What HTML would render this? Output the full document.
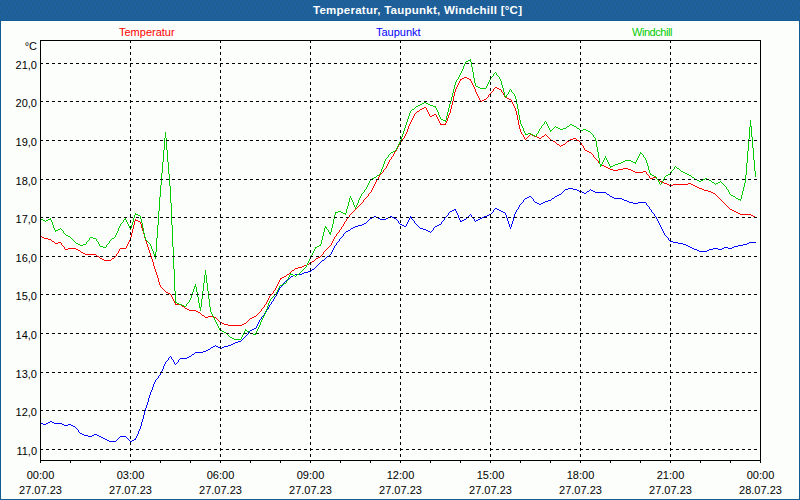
<!DOCTYPE html>
<html><head><meta charset="utf-8"><title>Temperatur, Taupunkt, Windchill</title>
<style>
html,body{margin:0;padding:0;}
body{width:800px;height:500px;overflow:hidden;background:#125b95;font-family:"Liberation Sans",sans-serif;font-size:11px;color:#000;position:relative;}
#bg{position:absolute;left:1px;top:21px;width:798px;height:478px;background:#fcfefb;}
#title{position:absolute;left:313px;top:3px;height:16px;line-height:14px;letter-spacing:0.25px;color:#fff;font-weight:bold;font-size:11.5px;white-space:nowrap;}
.lg{position:absolute;top:25px;height:14px;line-height:14px;white-space:nowrap;font-size:11px;}
.yl{position:absolute;left:0;width:37px;text-align:right;height:14px;line-height:14px;white-space:nowrap;}
.xl{position:absolute;width:81px;text-align:center;height:14px;line-height:14px;white-space:nowrap;}
</style></head><body>
<div id="bg"></div>
<div class="lg" id="l1" style="left:119px;color:#ff0000">Temperatur</div>
<div class="lg" id="l2" style="left:376px;color:#0000ff">Taupunkt</div>
<div class="lg" id="l3" style="left:632px;color:#00cc00;letter-spacing:-0.45px">Windchill</div>
<svg width="800" height="500" viewBox="0 0 800 500" style="position:absolute;left:0;top:0" shape-rendering="crispEdges">
<defs><pattern id="dz" x="0" y="0" width="8" height="8" patternUnits="userSpaceOnUse"><rect width="8" height="8" fill="#1e6096"/><path fill="#2062b4" d="M1 1h1v1h-1zM5 1h1v1h-1zM3 3h1v1h-1zM7 3h1v1h-1zM2 5h1v1h-1zM6 5h1v1h-1zM0 7h1v1h-1zM4 7h1v1h-1z"/></pattern></defs>
<rect x="0" y="0" width="800" height="20" fill="url(#dz)"/>
<path fill="#ff0000" d="M40 236h1v1h-1zM41 236h1v1h-1zM42 237h1v1h-1zM43 237h1v1h-1zM44 238h1v1h-1zM45 238h1v1h-1zM46 238h1v1h-1zM47 238h1v1h-1zM48 239h1v1h-1zM49 239h1v1h-1zM50 239h1v1h-1zM51 240h1v1h-1zM52 241h1v1h-1zM53 241h1v1h-1zM54 242h1v1h-1zM55 243h1v1h-1zM56 243h1v1h-1zM57 243h1v1h-1zM58 242h1v1h-1zM59 242h1v1h-1zM60 242h1v1h-1zM61 243h1v2h-1zM62 245h1v1h-1zM63 246h1v1h-1zM64 247h1v2h-1zM65 249h1v1h-1zM66 249h1v1h-1zM67 249h1v1h-1zM68 248h1v1h-1zM69 248h1v1h-1zM70 248h1v1h-1zM71 248h1v1h-1zM72 248h1v1h-1zM73 248h1v1h-1zM74 248h1v1h-1zM75 248h1v1h-1zM76 249h1v1h-1zM77 249h1v1h-1zM78 250h1v1h-1zM79 250h1v1h-1zM80 251h1v1h-1zM81 252h1v1h-1zM82 252h1v1h-1zM83 253h1v1h-1zM84 253h1v1h-1zM85 254h1v1h-1zM86 254h1v1h-1zM87 254h1v1h-1zM88 254h1v1h-1zM89 254h1v1h-1zM90 254h1v1h-1zM91 254h1v1h-1zM92 254h1v1h-1zM93 254h1v1h-1zM94 254h1v1h-1zM95 254h1v1h-1zM96 255h1v1h-1zM97 256h1v1h-1zM98 256h1v1h-1zM99 257h1v1h-1zM100 258h1v1h-1zM101 258h1v1h-1zM102 259h1v1h-1zM103 259h1v1h-1zM104 260h1v1h-1zM105 260h1v1h-1zM106 260h1v1h-1zM107 260h1v1h-1zM108 260h1v1h-1zM109 260h1v1h-1zM110 260h1v1h-1zM111 259h1v1h-1zM112 258h1v1h-1zM113 258h1v1h-1zM114 257h1v1h-1zM115 256h1v1h-1zM116 254h1v2h-1zM117 253h1v1h-1zM118 251h1v2h-1zM119 249h1v2h-1zM120 248h1v1h-1zM121 248h1v1h-1zM122 248h1v1h-1zM123 248h1v1h-1zM124 248h1v1h-1zM125 248h1v1h-1zM126 246h1v2h-1zM127 244h1v2h-1zM128 242h1v2h-1zM129 240h1v2h-1zM130 237h1v3h-1zM131 233h1v4h-1zM132 229h1v4h-1zM133 225h1v4h-1zM134 221h1v4h-1zM135 219h1v2h-1zM136 220h1v1h-1zM137 220h1v1h-1zM138 221h1v1h-1zM139 221h1v1h-1zM140 222h1v2h-1zM141 224h1v4h-1zM142 228h1v3h-1zM143 231h1v3h-1zM144 234h1v4h-1zM145 238h1v3h-1zM146 241h1v3h-1zM147 244h1v3h-1zM148 247h1v3h-1zM149 250h1v3h-1zM150 253h1v3h-1zM151 256h1v3h-1zM152 259h1v3h-1zM153 262h1v4h-1zM154 266h1v3h-1zM155 269h1v3h-1zM156 272h1v3h-1zM157 275h1v3h-1zM158 278h1v4h-1zM159 282h1v3h-1zM160 285h1v2h-1zM161 287h1v1h-1zM162 288h1v1h-1zM163 289h1v1h-1zM164 290h1v1h-1zM165 291h1v1h-1zM166 292h1v1h-1zM167 292h1v1h-1zM168 293h1v1h-1zM169 293h1v1h-1zM170 294h1v1h-1zM171 295h1v2h-1zM172 297h1v2h-1zM173 299h1v2h-1zM174 301h1v2h-1zM175 303h1v2h-1zM176 304h1v1h-1zM177 304h1v1h-1zM178 304h1v1h-1zM179 304h1v1h-1zM180 304h1v1h-1zM181 305h1v1h-1zM182 306h1v1h-1zM183 306h1v1h-1zM184 307h1v1h-1zM185 308h1v1h-1zM186 308h1v1h-1zM187 309h1v1h-1zM188 309h1v1h-1zM189 310h1v1h-1zM190 310h1v1h-1zM191 310h1v1h-1zM192 310h1v1h-1zM193 310h1v1h-1zM194 310h1v1h-1zM195 310h1v1h-1zM196 311h1v1h-1zM197 311h1v1h-1zM198 312h1v1h-1zM199 312h1v1h-1zM200 313h1v1h-1zM201 314h1v1h-1zM202 315h1v1h-1zM203 315h1v1h-1zM204 316h1v1h-1zM205 317h1v1h-1zM206 317h1v1h-1zM207 317h1v1h-1zM208 316h1v1h-1zM209 316h1v1h-1zM210 316h1v1h-1zM211 316h1v1h-1zM212 316h1v1h-1zM213 317h1v1h-1zM214 317h1v1h-1zM215 317h1v1h-1zM216 318h1v1h-1zM217 319h1v1h-1zM218 320h1v1h-1zM219 321h1v1h-1zM220 322h1v1h-1zM221 322h1v1h-1zM222 323h1v1h-1zM223 323h1v1h-1zM224 324h1v1h-1zM225 324h1v1h-1zM226 324h1v1h-1zM227 324h1v1h-1zM228 325h1v1h-1zM229 325h1v1h-1zM230 325h1v1h-1zM231 325h1v1h-1zM232 325h1v1h-1zM233 325h1v1h-1zM234 325h1v1h-1zM235 325h1v1h-1zM236 325h1v1h-1zM237 325h1v1h-1zM238 325h1v1h-1zM239 325h1v1h-1zM240 325h1v1h-1zM241 325h1v1h-1zM242 324h1v1h-1zM243 324h1v1h-1zM244 323h1v1h-1zM245 323h1v1h-1zM246 322h1v1h-1zM247 321h1v1h-1zM248 320h1v1h-1zM249 319h1v1h-1zM250 318h1v1h-1zM251 318h1v1h-1zM252 317h1v1h-1zM253 317h1v1h-1zM254 316h1v1h-1zM255 316h1v1h-1zM256 315h1v1h-1zM257 314h1v1h-1zM258 313h1v1h-1zM259 312h1v1h-1zM260 311h1v1h-1zM261 309h1v2h-1zM262 308h1v1h-1zM263 307h1v1h-1zM264 305h1v2h-1zM265 304h1v1h-1zM266 302h1v2h-1zM267 300h1v2h-1zM268 298h1v2h-1zM269 296h1v2h-1zM270 295h1v1h-1zM271 294h1v1h-1zM272 293h1v1h-1zM273 291h1v2h-1zM274 290h1v1h-1zM275 288h1v2h-1zM276 286h1v2h-1zM277 284h1v2h-1zM278 282h1v2h-1zM279 280h1v2h-1zM280 278h1v2h-1zM281 278h1v1h-1zM282 277h1v1h-1zM283 277h1v1h-1zM284 276h1v1h-1zM285 276h1v1h-1zM286 275h1v1h-1zM287 274h1v1h-1zM288 274h1v1h-1zM289 273h1v1h-1zM290 272h1v1h-1zM291 271h1v1h-1zM292 270h1v1h-1zM293 270h1v1h-1zM294 269h1v1h-1zM295 268h1v1h-1zM296 268h1v1h-1zM297 268h1v1h-1zM298 267h1v1h-1zM299 267h1v1h-1zM300 267h1v1h-1zM301 267h1v1h-1zM302 266h1v1h-1zM303 266h1v1h-1zM304 265h1v1h-1zM305 265h1v1h-1zM306 265h1v1h-1zM307 264h1v1h-1zM308 264h1v1h-1zM309 263h1v1h-1zM310 263h1v1h-1zM311 262h1v1h-1zM312 261h1v1h-1zM313 261h1v1h-1zM314 260h1v1h-1zM315 259h1v1h-1zM316 258h1v1h-1zM317 258h1v1h-1zM318 257h1v1h-1zM319 257h1v1h-1zM320 256h1v1h-1zM321 255h1v1h-1zM322 254h1v1h-1zM323 252h1v2h-1zM324 251h1v1h-1zM325 250h1v1h-1zM326 249h1v1h-1zM327 248h1v1h-1zM328 247h1v1h-1zM329 246h1v1h-1zM330 245h1v1h-1zM331 243h1v2h-1zM332 241h1v2h-1zM333 239h1v2h-1zM334 237h1v2h-1zM335 236h1v1h-1zM336 234h1v2h-1zM337 233h1v1h-1zM338 232h1v1h-1zM339 230h1v2h-1zM340 229h1v1h-1zM341 227h1v2h-1zM342 226h1v1h-1zM343 224h1v2h-1zM344 222h1v2h-1zM345 221h1v1h-1zM346 219h1v2h-1zM347 218h1v1h-1zM348 217h1v1h-1zM349 215h1v2h-1zM350 214h1v1h-1zM351 213h1v1h-1zM352 212h1v1h-1zM353 211h1v1h-1zM354 210h1v1h-1zM355 209h1v1h-1zM356 208h1v1h-1zM357 207h1v1h-1zM358 206h1v1h-1zM359 205h1v1h-1zM360 204h1v1h-1zM361 203h1v1h-1zM362 202h1v1h-1zM363 200h1v2h-1zM364 199h1v1h-1zM365 198h1v1h-1zM366 197h1v1h-1zM367 196h1v1h-1zM368 194h1v2h-1zM369 193h1v1h-1zM370 192h1v1h-1zM371 190h1v2h-1zM372 188h1v2h-1zM373 186h1v2h-1zM374 184h1v2h-1zM375 182h1v2h-1zM376 180h1v2h-1zM377 179h1v1h-1zM378 177h1v2h-1zM379 175h1v2h-1zM380 174h1v1h-1zM381 173h1v1h-1zM382 172h1v1h-1zM383 170h1v2h-1zM384 169h1v1h-1zM385 168h1v1h-1zM386 166h1v2h-1zM387 164h1v2h-1zM388 162h1v2h-1zM389 160h1v2h-1zM390 159h1v1h-1zM391 157h1v2h-1zM392 156h1v1h-1zM393 154h1v2h-1zM394 152h1v2h-1zM395 151h1v1h-1zM396 149h1v2h-1zM397 147h1v2h-1zM398 145h1v2h-1zM399 143h1v2h-1zM400 142h1v1h-1zM401 140h1v2h-1zM402 139h1v1h-1zM403 138h1v1h-1zM404 136h1v2h-1zM405 134h1v2h-1zM406 132h1v2h-1zM407 129h1v3h-1zM408 126h1v3h-1zM409 124h1v2h-1zM410 122h1v2h-1zM411 120h1v2h-1zM412 118h1v2h-1zM413 116h1v2h-1zM414 114h1v2h-1zM415 113h1v1h-1zM416 112h1v1h-1zM417 111h1v1h-1zM418 111h1v1h-1zM419 110h1v1h-1zM420 109h1v1h-1zM421 109h1v1h-1zM422 108h1v1h-1zM423 108h1v1h-1zM424 107h1v1h-1zM425 107h1v1h-1zM426 108h1v2h-1zM427 110h1v2h-1zM428 112h1v2h-1zM429 114h1v2h-1zM430 116h1v1h-1zM431 116h1v1h-1zM432 115h1v1h-1zM433 115h1v1h-1zM434 114h1v1h-1zM435 114h1v1h-1zM436 115h1v2h-1zM437 117h1v2h-1zM438 119h1v2h-1zM439 121h1v2h-1zM440 123h1v2h-1zM441 124h1v1h-1zM442 124h1v1h-1zM443 124h1v1h-1zM444 124h1v1h-1zM445 123h1v2h-1zM446 121h1v2h-1zM447 118h1v3h-1zM448 115h1v3h-1zM449 113h1v2h-1zM450 109h1v4h-1zM451 105h1v4h-1zM452 101h1v4h-1zM453 96h1v5h-1zM454 92h1v4h-1zM455 89h1v3h-1zM456 87h1v2h-1zM457 85h1v2h-1zM458 83h1v2h-1zM459 81h1v2h-1zM460 79h1v2h-1zM461 79h1v1h-1zM462 78h1v1h-1zM463 78h1v1h-1zM464 77h1v1h-1zM465 77h1v1h-1zM466 77h1v1h-1zM467 78h1v1h-1zM468 78h1v1h-1zM469 79h1v1h-1zM470 79h1v2h-1zM471 81h1v2h-1zM472 83h1v2h-1zM473 85h1v2h-1zM474 87h1v2h-1zM475 89h1v3h-1zM476 92h1v2h-1zM477 94h1v2h-1zM478 96h1v2h-1zM479 98h1v2h-1zM480 100h1v2h-1zM481 101h1v1h-1zM482 100h1v1h-1zM483 100h1v1h-1zM484 99h1v1h-1zM485 99h1v1h-1zM486 98h1v1h-1zM487 97h1v1h-1zM488 95h1v2h-1zM489 94h1v1h-1zM490 93h1v1h-1zM491 92h1v1h-1zM492 91h1v1h-1zM493 89h1v2h-1zM494 88h1v1h-1zM495 87h1v1h-1zM496 87h1v1h-1zM497 88h1v1h-1zM498 88h1v1h-1zM499 89h1v1h-1zM500 89h1v1h-1zM501 90h1v2h-1zM502 92h1v1h-1zM503 93h1v2h-1zM504 95h1v2h-1zM505 97h1v1h-1zM506 97h1v1h-1zM507 98h1v1h-1zM508 98h1v1h-1zM509 99h1v1h-1zM510 99h1v1h-1zM511 100h1v2h-1zM512 102h1v2h-1zM513 104h1v2h-1zM514 106h1v2h-1zM515 108h1v3h-1zM516 111h1v4h-1zM517 115h1v5h-1zM518 120h1v5h-1zM519 125h1v4h-1zM520 129h1v3h-1zM521 132h1v2h-1zM522 134h1v1h-1zM523 135h1v2h-1zM524 137h1v2h-1zM525 139h1v1h-1zM526 138h1v1h-1zM527 137h1v1h-1zM528 136h1v1h-1zM529 135h1v1h-1zM530 134h1v1h-1zM531 134h1v1h-1zM532 135h1v1h-1zM533 135h1v1h-1zM534 136h1v1h-1zM535 136h1v1h-1zM536 136h1v1h-1zM537 137h1v1h-1zM538 137h1v1h-1zM539 138h1v1h-1zM540 138h1v1h-1zM541 137h1v1h-1zM542 136h1v1h-1zM543 136h1v1h-1zM544 135h1v1h-1zM545 134h1v1h-1zM546 135h1v1h-1zM547 136h1v1h-1zM548 137h1v1h-1zM549 138h1v1h-1zM550 139h1v1h-1zM551 140h1v1h-1zM552 140h1v1h-1zM553 141h1v1h-1zM554 141h1v1h-1zM555 142h1v1h-1zM556 143h1v1h-1zM557 144h1v1h-1zM558 144h1v1h-1zM559 145h1v1h-1zM560 146h1v1h-1zM561 145h1v1h-1zM562 145h1v1h-1zM563 144h1v1h-1zM564 144h1v1h-1zM565 143h1v1h-1zM566 142h1v1h-1zM567 141h1v1h-1zM568 141h1v1h-1zM569 140h1v1h-1zM570 139h1v1h-1zM571 139h1v1h-1zM572 139h1v1h-1zM573 138h1v1h-1zM574 138h1v1h-1zM575 138h1v1h-1zM576 139h1v1h-1zM577 140h1v1h-1zM578 140h1v1h-1zM579 141h1v1h-1zM580 142h1v1h-1zM581 143h1v2h-1zM582 145h1v1h-1zM583 146h1v2h-1zM584 148h1v2h-1zM585 150h1v1h-1zM586 150h1v1h-1zM587 151h1v1h-1zM588 151h1v1h-1zM589 152h1v1h-1zM590 152h1v1h-1zM591 153h1v1h-1zM592 154h1v1h-1zM593 155h1v2h-1zM594 157h1v1h-1zM595 158h1v1h-1zM596 159h1v1h-1zM597 160h1v1h-1zM598 161h1v2h-1zM599 163h1v1h-1zM600 164h1v1h-1zM601 164h1v1h-1zM602 165h1v1h-1zM603 165h1v1h-1zM604 166h1v1h-1zM605 166h1v1h-1zM606 167h1v1h-1zM607 167h1v1h-1zM608 168h1v1h-1zM609 168h1v1h-1zM610 169h1v1h-1zM611 169h1v1h-1zM612 169h1v1h-1zM613 170h1v1h-1zM614 170h1v1h-1zM615 170h1v1h-1zM616 170h1v1h-1zM617 170h1v1h-1zM618 169h1v1h-1zM619 169h1v1h-1zM620 169h1v1h-1zM621 169h1v1h-1zM622 169h1v1h-1zM623 168h1v1h-1zM624 168h1v1h-1zM625 168h1v1h-1zM626 168h1v1h-1zM627 168h1v1h-1zM628 169h1v1h-1zM629 169h1v1h-1zM630 169h1v1h-1zM631 170h1v1h-1zM632 170h1v1h-1zM633 171h1v1h-1zM634 171h1v1h-1zM635 172h1v1h-1zM636 172h1v1h-1zM637 172h1v1h-1zM638 172h1v1h-1zM639 172h1v1h-1zM640 172h1v1h-1zM641 172h1v1h-1zM642 172h1v1h-1zM643 171h1v1h-1zM644 171h1v1h-1zM645 171h1v1h-1zM646 172h1v2h-1zM647 174h1v1h-1zM648 175h1v1h-1zM649 176h1v2h-1zM650 178h1v1h-1zM651 178h1v1h-1zM652 178h1v1h-1zM653 177h1v1h-1zM654 177h1v1h-1zM655 177h1v1h-1zM656 178h1v1h-1zM657 179h1v1h-1zM658 179h1v1h-1zM659 180h1v1h-1zM660 181h1v1h-1zM661 181h1v1h-1zM662 182h1v1h-1zM663 182h1v1h-1zM664 183h1v1h-1zM665 183h1v1h-1zM666 183h1v1h-1zM667 184h1v1h-1zM668 184h1v1h-1zM669 185h1v1h-1zM670 185h1v1h-1zM671 185h1v1h-1zM672 185h1v1h-1zM673 184h1v1h-1zM674 184h1v1h-1zM675 184h1v1h-1zM676 184h1v1h-1zM677 184h1v1h-1zM678 184h1v1h-1zM679 184h1v1h-1zM680 184h1v1h-1zM681 184h1v1h-1zM682 184h1v1h-1zM683 184h1v1h-1zM684 184h1v1h-1zM685 184h1v1h-1zM686 184h1v1h-1zM687 184h1v1h-1zM688 183h1v1h-1zM689 183h1v1h-1zM690 183h1v1h-1zM691 184h1v1h-1zM692 184h1v1h-1zM693 185h1v1h-1zM694 185h1v1h-1zM695 186h1v1h-1zM696 186h1v1h-1zM697 187h1v1h-1zM698 187h1v1h-1zM699 188h1v1h-1zM700 188h1v1h-1zM701 188h1v1h-1zM702 189h1v1h-1zM703 189h1v1h-1zM704 190h1v1h-1zM705 190h1v1h-1zM706 190h1v1h-1zM707 190h1v1h-1zM708 191h1v1h-1zM709 191h1v1h-1zM710 191h1v1h-1zM711 192h1v1h-1zM712 192h1v1h-1zM713 193h1v1h-1zM714 193h1v1h-1zM715 194h1v1h-1zM716 195h1v1h-1zM717 196h1v1h-1zM718 197h1v1h-1zM719 198h1v1h-1zM720 199h1v1h-1zM721 200h1v1h-1zM722 201h1v1h-1zM723 202h1v1h-1zM724 203h1v1h-1zM725 204h1v1h-1zM726 205h1v1h-1zM727 206h1v1h-1zM728 207h1v1h-1zM729 208h1v1h-1zM730 209h1v1h-1zM731 209h1v1h-1zM732 210h1v1h-1zM733 210h1v1h-1zM734 211h1v1h-1zM735 211h1v1h-1zM736 212h1v1h-1zM737 212h1v1h-1zM738 213h1v1h-1zM739 213h1v1h-1zM740 214h1v1h-1zM741 214h1v1h-1zM742 214h1v1h-1zM743 214h1v1h-1zM744 214h1v1h-1zM745 214h1v1h-1zM746 214h1v1h-1zM747 214h1v1h-1zM748 214h1v1h-1zM749 214h1v1h-1zM750 214h1v1h-1zM751 215h1v1h-1zM752 215h1v1h-1zM753 216h1v1h-1zM754 216h1v1h-1zM755 217h1v1h-1z"/>
<path fill="#0000ff" d="M40 423h1v1h-1zM41 423h1v1h-1zM42 423h1v1h-1zM43 424h1v1h-1zM44 424h1v1h-1zM45 424h1v1h-1zM46 423h1v1h-1zM47 423h1v1h-1zM48 422h1v1h-1zM49 422h1v1h-1zM50 421h1v1h-1zM51 421h1v1h-1zM52 422h1v1h-1zM53 422h1v1h-1zM54 423h1v1h-1zM55 423h1v1h-1zM56 423h1v1h-1zM57 423h1v1h-1zM58 423h1v1h-1zM59 423h1v1h-1zM60 423h1v1h-1zM61 423h1v1h-1zM62 424h1v1h-1zM63 424h1v1h-1zM64 425h1v1h-1zM65 425h1v1h-1zM66 425h1v1h-1zM67 425h1v1h-1zM68 424h1v1h-1zM69 424h1v1h-1zM70 424h1v1h-1zM71 425h1v1h-1zM72 425h1v1h-1zM73 426h1v1h-1zM74 426h1v1h-1zM75 427h1v1h-1zM76 428h1v1h-1zM77 429h1v1h-1zM78 430h1v2h-1zM79 432h1v1h-1zM80 433h1v1h-1zM81 433h1v1h-1zM82 434h1v1h-1zM83 434h1v1h-1zM84 435h1v1h-1zM85 435h1v1h-1zM86 435h1v1h-1zM87 435h1v1h-1zM88 436h1v1h-1zM89 436h1v1h-1zM90 436h1v1h-1zM91 436h1v1h-1zM92 435h1v1h-1zM93 435h1v1h-1zM94 434h1v1h-1zM95 434h1v1h-1zM96 434h1v1h-1zM97 435h1v1h-1zM98 435h1v1h-1zM99 436h1v1h-1zM100 436h1v1h-1zM101 437h1v1h-1zM102 437h1v1h-1zM103 438h1v1h-1zM104 438h1v1h-1zM105 439h1v1h-1zM106 439h1v1h-1zM107 440h1v1h-1zM108 440h1v1h-1zM109 441h1v1h-1zM110 441h1v1h-1zM111 441h1v1h-1zM112 441h1v1h-1zM113 441h1v1h-1zM114 441h1v1h-1zM115 441h1v1h-1zM116 440h1v1h-1zM117 439h1v1h-1zM118 438h1v1h-1zM119 437h1v1h-1zM120 436h1v1h-1zM121 436h1v1h-1zM122 436h1v1h-1zM123 436h1v1h-1zM124 436h1v1h-1zM125 436h1v1h-1zM126 437h1v1h-1zM127 438h1v1h-1zM128 439h1v1h-1zM129 440h1v1h-1zM130 441h1v1h-1zM131 441h1v1h-1zM132 440h1v1h-1zM133 440h1v1h-1zM134 439h1v1h-1zM135 438h1v2h-1zM136 436h1v2h-1zM137 434h1v2h-1zM138 431h1v3h-1zM139 429h1v2h-1zM140 426h1v3h-1zM141 422h1v4h-1zM142 419h1v3h-1zM143 415h1v4h-1zM144 411h1v4h-1zM145 408h1v3h-1zM146 405h1v3h-1zM147 402h1v3h-1zM148 398h1v4h-1zM149 395h1v3h-1zM150 392h1v3h-1zM151 390h1v2h-1zM152 387h1v3h-1zM153 384h1v3h-1zM154 382h1v2h-1zM155 380h1v2h-1zM156 379h1v1h-1zM157 378h1v1h-1zM158 376h1v2h-1zM159 375h1v1h-1zM160 373h1v2h-1zM161 371h1v2h-1zM162 369h1v2h-1zM163 366h1v3h-1zM164 364h1v2h-1zM165 362h1v2h-1zM166 361h1v1h-1zM167 360h1v1h-1zM168 358h1v2h-1zM169 357h1v1h-1zM170 356h1v1h-1zM171 357h1v2h-1zM172 359h1v1h-1zM173 360h1v2h-1zM174 362h1v2h-1zM175 364h1v1h-1zM176 363h1v1h-1zM177 362h1v1h-1zM178 360h1v2h-1zM179 359h1v1h-1zM180 358h1v1h-1zM181 358h1v1h-1zM182 358h1v1h-1zM183 358h1v1h-1zM184 358h1v1h-1zM185 358h1v1h-1zM186 358h1v1h-1zM187 357h1v1h-1zM188 357h1v1h-1zM189 356h1v1h-1zM190 356h1v1h-1zM191 355h1v1h-1zM192 354h1v1h-1zM193 354h1v1h-1zM194 353h1v1h-1zM195 352h1v1h-1zM196 352h1v1h-1zM197 352h1v1h-1zM198 352h1v1h-1zM199 352h1v1h-1zM200 352h1v1h-1zM201 352h1v1h-1zM202 352h1v1h-1zM203 351h1v1h-1zM204 351h1v1h-1zM205 351h1v1h-1zM206 350h1v1h-1zM207 350h1v1h-1zM208 349h1v1h-1zM209 349h1v1h-1zM210 348h1v1h-1zM211 347h1v1h-1zM212 347h1v1h-1zM213 346h1v1h-1zM214 346h1v1h-1zM215 345h1v1h-1zM216 346h1v1h-1zM217 346h1v1h-1zM218 347h1v1h-1zM219 347h1v1h-1zM220 348h1v1h-1zM221 348h1v1h-1zM222 347h1v1h-1zM223 347h1v1h-1zM224 346h1v1h-1zM225 346h1v1h-1zM226 346h1v1h-1zM227 346h1v1h-1zM228 345h1v1h-1zM229 345h1v1h-1zM230 345h1v1h-1zM231 344h1v1h-1zM232 344h1v1h-1zM233 343h1v1h-1zM234 343h1v1h-1zM235 342h1v1h-1zM236 342h1v1h-1zM237 342h1v1h-1zM238 341h1v1h-1zM239 341h1v1h-1zM240 341h1v1h-1zM241 340h1v1h-1zM242 339h1v1h-1zM243 338h1v1h-1zM244 337h1v1h-1zM245 336h1v1h-1zM246 335h1v1h-1zM247 334h1v1h-1zM248 332h1v2h-1zM249 331h1v1h-1zM250 330h1v1h-1zM251 330h1v1h-1zM252 329h1v1h-1zM253 329h1v1h-1zM254 328h1v1h-1zM255 328h1v1h-1zM256 326h1v2h-1zM257 324h1v2h-1zM258 322h1v2h-1zM259 320h1v2h-1zM260 319h1v1h-1zM261 317h1v2h-1zM262 316h1v1h-1zM263 315h1v1h-1zM264 313h1v2h-1zM265 312h1v1h-1zM266 310h1v2h-1zM267 309h1v1h-1zM268 307h1v2h-1zM269 305h1v2h-1zM270 304h1v1h-1zM271 302h1v2h-1zM272 301h1v1h-1zM273 299h1v2h-1zM274 297h1v2h-1zM275 296h1v1h-1zM276 294h1v2h-1zM277 292h1v2h-1zM278 290h1v2h-1zM279 288h1v2h-1zM280 287h1v1h-1zM281 286h1v1h-1zM282 285h1v1h-1zM283 283h1v2h-1zM284 282h1v1h-1zM285 281h1v1h-1zM286 280h1v1h-1zM287 279h1v1h-1zM288 279h1v1h-1zM289 278h1v1h-1zM290 277h1v1h-1zM291 276h1v1h-1zM292 276h1v1h-1zM293 275h1v1h-1zM294 275h1v1h-1zM295 274h1v1h-1zM296 274h1v1h-1zM297 274h1v1h-1zM298 274h1v1h-1zM299 274h1v1h-1zM300 274h1v1h-1zM301 274h1v1h-1zM302 273h1v1h-1zM303 273h1v1h-1zM304 272h1v1h-1zM305 272h1v1h-1zM306 272h1v1h-1zM307 272h1v1h-1zM308 271h1v1h-1zM309 271h1v1h-1zM310 271h1v1h-1zM311 270h1v1h-1zM312 269h1v1h-1zM313 269h1v1h-1zM314 268h1v1h-1zM315 267h1v1h-1zM316 266h1v1h-1zM317 265h1v1h-1zM318 264h1v1h-1zM319 263h1v1h-1zM320 262h1v1h-1zM321 261h1v1h-1zM322 260h1v1h-1zM323 260h1v1h-1zM324 259h1v1h-1zM325 258h1v1h-1zM326 257h1v1h-1zM327 256h1v1h-1zM328 256h1v1h-1zM329 255h1v1h-1zM330 254h1v1h-1zM331 252h1v2h-1zM332 250h1v2h-1zM333 248h1v2h-1zM334 246h1v2h-1zM335 245h1v1h-1zM336 243h1v2h-1zM337 242h1v1h-1zM338 241h1v1h-1zM339 239h1v2h-1zM340 238h1v1h-1zM341 237h1v1h-1zM342 236h1v1h-1zM343 234h1v2h-1zM344 233h1v1h-1zM345 232h1v1h-1zM346 231h1v1h-1zM347 231h1v1h-1zM348 230h1v1h-1zM349 230h1v1h-1zM350 229h1v1h-1zM351 228h1v1h-1zM352 228h1v1h-1zM353 227h1v1h-1zM354 227h1v1h-1zM355 226h1v1h-1zM356 226h1v1h-1zM357 226h1v1h-1zM358 225h1v1h-1zM359 225h1v1h-1zM360 225h1v1h-1zM361 225h1v1h-1zM362 224h1v1h-1zM363 224h1v1h-1zM364 223h1v1h-1zM365 223h1v1h-1zM366 222h1v1h-1zM367 221h1v1h-1zM368 220h1v1h-1zM369 219h1v1h-1zM370 218h1v1h-1zM371 218h1v1h-1zM372 217h1v1h-1zM373 217h1v1h-1zM374 216h1v1h-1zM375 216h1v1h-1zM376 217h1v1h-1zM377 217h1v1h-1zM378 218h1v1h-1zM379 218h1v1h-1zM380 219h1v1h-1zM381 219h1v1h-1zM382 219h1v1h-1zM383 219h1v1h-1zM384 219h1v1h-1zM385 219h1v1h-1zM386 218h1v1h-1zM387 218h1v1h-1zM388 217h1v1h-1zM389 217h1v1h-1zM390 216h1v1h-1zM391 216h1v1h-1zM392 217h1v1h-1zM393 217h1v1h-1zM394 218h1v1h-1zM395 218h1v1h-1zM396 219h1v1h-1zM397 220h1v1h-1zM398 221h1v2h-1zM399 223h1v1h-1zM400 224h1v1h-1zM401 224h1v1h-1zM402 225h1v1h-1zM403 225h1v1h-1zM404 226h1v1h-1zM405 226h1v1h-1zM406 224h1v2h-1zM407 222h1v2h-1zM408 220h1v2h-1zM409 218h1v2h-1zM410 216h1v2h-1zM411 217h1v2h-1zM412 219h1v1h-1zM413 220h1v1h-1zM414 221h1v2h-1zM415 223h1v1h-1zM416 224h1v1h-1zM417 225h1v1h-1zM418 226h1v1h-1zM419 227h1v1h-1zM420 228h1v1h-1zM421 228h1v1h-1zM422 228h1v1h-1zM423 229h1v1h-1zM424 229h1v1h-1zM425 229h1v1h-1zM426 230h1v1h-1zM427 230h1v1h-1zM428 231h1v1h-1zM429 231h1v1h-1zM430 232h1v1h-1zM431 231h1v1h-1zM432 230h1v1h-1zM433 228h1v2h-1zM434 227h1v1h-1zM435 226h1v1h-1zM436 226h1v1h-1zM437 225h1v1h-1zM438 225h1v1h-1zM439 224h1v1h-1zM440 224h1v1h-1zM441 222h1v2h-1zM442 221h1v1h-1zM443 220h1v1h-1zM444 218h1v2h-1zM445 217h1v1h-1zM446 216h1v1h-1zM447 215h1v1h-1zM448 213h1v2h-1zM449 212h1v1h-1zM450 211h1v1h-1zM451 211h1v1h-1zM452 210h1v1h-1zM453 210h1v1h-1zM454 209h1v1h-1zM455 209h1v2h-1zM456 211h1v2h-1zM457 213h1v2h-1zM458 215h1v3h-1zM459 218h1v2h-1zM460 220h1v2h-1zM461 221h1v1h-1zM462 220h1v1h-1zM463 220h1v1h-1zM464 219h1v1h-1zM465 219h1v1h-1zM466 218h1v1h-1zM467 217h1v1h-1zM468 216h1v1h-1zM469 215h1v1h-1zM470 214h1v1h-1zM471 215h1v2h-1zM472 217h1v1h-1zM473 218h1v1h-1zM474 219h1v2h-1zM475 221h1v1h-1zM476 220h1v1h-1zM477 220h1v1h-1zM478 219h1v1h-1zM479 219h1v1h-1zM480 218h1v1h-1zM481 218h1v1h-1zM482 217h1v1h-1zM483 217h1v1h-1zM484 216h1v1h-1zM485 216h1v1h-1zM486 216h1v1h-1zM487 215h1v1h-1zM488 215h1v1h-1zM489 214h1v1h-1zM490 214h1v1h-1zM491 213h1v1h-1zM492 212h1v1h-1zM493 210h1v2h-1zM494 209h1v1h-1zM495 208h1v1h-1zM496 208h1v1h-1zM497 209h1v1h-1zM498 209h1v1h-1zM499 210h1v1h-1zM500 210h1v1h-1zM501 211h1v1h-1zM502 211h1v1h-1zM503 212h1v1h-1zM504 212h1v1h-1zM505 213h1v2h-1zM506 215h1v3h-1zM507 218h1v3h-1zM508 221h1v3h-1zM509 224h1v3h-1zM510 227h1v2h-1zM511 224h1v3h-1zM512 221h1v3h-1zM513 217h1v4h-1zM514 214h1v3h-1zM515 212h1v2h-1zM516 210h1v2h-1zM517 209h1v1h-1zM518 207h1v2h-1zM519 205h1v2h-1zM520 204h1v1h-1zM521 203h1v1h-1zM522 202h1v1h-1zM523 200h1v2h-1zM524 199h1v1h-1zM525 198h1v1h-1zM526 198h1v1h-1zM527 197h1v1h-1zM528 197h1v1h-1zM529 196h1v1h-1zM530 196h1v1h-1zM531 197h1v1h-1zM532 198h1v1h-1zM533 199h1v2h-1zM534 201h1v1h-1zM535 202h1v1h-1zM536 202h1v1h-1zM537 203h1v1h-1zM538 203h1v1h-1zM539 204h1v1h-1zM540 204h1v1h-1zM541 203h1v1h-1zM542 203h1v1h-1zM543 202h1v1h-1zM544 202h1v1h-1zM545 201h1v1h-1zM546 201h1v1h-1zM547 201h1v1h-1zM548 200h1v1h-1zM549 200h1v1h-1zM550 200h1v1h-1zM551 199h1v1h-1zM552 198h1v1h-1zM553 198h1v1h-1zM554 197h1v1h-1zM555 196h1v1h-1zM556 196h1v1h-1zM557 195h1v1h-1zM558 195h1v1h-1zM559 194h1v1h-1zM560 194h1v1h-1zM561 193h1v1h-1zM562 192h1v1h-1zM563 191h1v1h-1zM564 190h1v1h-1zM565 189h1v1h-1zM566 189h1v1h-1zM567 189h1v1h-1zM568 188h1v1h-1zM569 188h1v1h-1zM570 188h1v1h-1zM571 188h1v1h-1zM572 188h1v1h-1zM573 189h1v1h-1zM574 189h1v1h-1zM575 189h1v1h-1zM576 189h1v1h-1zM577 190h1v1h-1zM578 190h1v1h-1zM579 191h1v1h-1zM580 191h1v1h-1zM581 191h1v1h-1zM582 192h1v1h-1zM583 192h1v1h-1zM584 193h1v1h-1zM585 193h1v1h-1zM586 192h1v1h-1zM587 191h1v1h-1zM588 191h1v1h-1zM589 190h1v1h-1zM590 189h1v1h-1zM591 190h1v1h-1zM592 190h1v1h-1zM593 191h1v1h-1zM594 191h1v1h-1zM595 192h1v1h-1zM596 192h1v1h-1zM597 192h1v1h-1zM598 192h1v1h-1zM599 192h1v1h-1zM600 192h1v1h-1zM601 192h1v1h-1zM602 192h1v1h-1zM603 192h1v1h-1zM604 192h1v1h-1zM605 192h1v1h-1zM606 193h1v1h-1zM607 194h1v1h-1zM608 194h1v1h-1zM609 195h1v1h-1zM610 196h1v1h-1zM611 196h1v1h-1zM612 197h1v1h-1zM613 197h1v1h-1zM614 198h1v1h-1zM615 198h1v1h-1zM616 198h1v1h-1zM617 198h1v1h-1zM618 198h1v1h-1zM619 198h1v1h-1zM620 198h1v1h-1zM621 198h1v1h-1zM622 199h1v1h-1zM623 199h1v1h-1zM624 200h1v1h-1zM625 200h1v1h-1zM626 200h1v1h-1zM627 201h1v1h-1zM628 201h1v1h-1zM629 202h1v1h-1zM630 202h1v1h-1zM631 202h1v1h-1zM632 202h1v1h-1zM633 203h1v1h-1zM634 203h1v1h-1zM635 203h1v1h-1zM636 203h1v1h-1zM637 203h1v1h-1zM638 202h1v1h-1zM639 202h1v1h-1zM640 202h1v1h-1zM641 202h1v1h-1zM642 202h1v1h-1zM643 202h1v1h-1zM644 202h1v1h-1zM645 202h1v1h-1zM646 203h1v2h-1zM647 205h1v1h-1zM648 206h1v1h-1zM649 207h1v2h-1zM650 209h1v1h-1zM651 210h1v2h-1zM652 212h1v1h-1zM653 213h1v1h-1zM654 214h1v2h-1zM655 216h1v1h-1zM656 217h1v2h-1zM657 219h1v2h-1zM658 221h1v2h-1zM659 223h1v2h-1zM660 225h1v2h-1zM661 227h1v2h-1zM662 229h1v2h-1zM663 231h1v2h-1zM664 233h1v2h-1zM665 235h1v1h-1zM666 236h1v1h-1zM667 237h1v1h-1zM668 238h1v2h-1zM669 240h1v1h-1zM670 241h1v1h-1zM671 241h1v1h-1zM672 241h1v1h-1zM673 242h1v1h-1zM674 242h1v1h-1zM675 242h1v1h-1zM676 242h1v1h-1zM677 242h1v1h-1zM678 243h1v1h-1zM679 243h1v1h-1zM680 243h1v1h-1zM681 243h1v1h-1zM682 243h1v1h-1zM683 244h1v1h-1zM684 244h1v1h-1zM685 244h1v1h-1zM686 245h1v1h-1zM687 245h1v1h-1zM688 246h1v1h-1zM689 246h1v1h-1zM690 247h1v1h-1zM691 247h1v1h-1zM692 248h1v1h-1zM693 248h1v1h-1zM694 249h1v1h-1zM695 249h1v1h-1zM696 249h1v1h-1zM697 250h1v1h-1zM698 250h1v1h-1zM699 251h1v1h-1zM700 251h1v1h-1zM701 251h1v1h-1zM702 251h1v1h-1zM703 251h1v1h-1zM704 251h1v1h-1zM705 251h1v1h-1zM706 251h1v1h-1zM707 250h1v1h-1zM708 250h1v1h-1zM709 249h1v1h-1zM710 249h1v1h-1zM711 249h1v1h-1zM712 249h1v1h-1zM713 248h1v1h-1zM714 248h1v1h-1zM715 248h1v1h-1zM716 248h1v1h-1zM717 248h1v1h-1zM718 249h1v1h-1zM719 249h1v1h-1zM720 249h1v1h-1zM721 249h1v1h-1zM722 248h1v1h-1zM723 248h1v1h-1zM724 247h1v1h-1zM725 247h1v1h-1zM726 247h1v1h-1zM727 247h1v1h-1zM728 248h1v1h-1zM729 248h1v1h-1zM730 248h1v1h-1zM731 248h1v1h-1zM732 247h1v1h-1zM733 247h1v1h-1zM734 246h1v1h-1zM735 246h1v1h-1zM736 246h1v1h-1zM737 246h1v1h-1zM738 245h1v1h-1zM739 245h1v1h-1zM740 245h1v1h-1zM741 245h1v1h-1zM742 245h1v1h-1zM743 244h1v1h-1zM744 244h1v1h-1zM745 244h1v1h-1zM746 244h1v1h-1zM747 243h1v1h-1zM748 243h1v1h-1zM749 242h1v1h-1zM750 242h1v1h-1zM751 242h1v1h-1zM752 242h1v1h-1zM753 242h1v1h-1zM754 242h1v1h-1zM755 242h1v1h-1z"/>
<path fill="#00cc00" d="M40 218h1v1h-1zM41 219h1v1h-1zM42 219h1v1h-1zM43 220h1v1h-1zM44 220h1v1h-1zM45 221h1v1h-1zM46 220h1v1h-1zM47 220h1v1h-1zM48 219h1v1h-1zM49 219h1v1h-1zM50 218h1v2h-1zM51 220h1v2h-1zM52 222h1v3h-1zM53 225h1v3h-1zM54 228h1v2h-1zM55 230h1v2h-1zM56 230h1v1h-1zM57 230h1v1h-1zM58 229h1v1h-1zM59 229h1v1h-1zM60 228h1v1h-1zM61 229h1v1h-1zM62 230h1v1h-1zM63 231h1v2h-1zM64 233h1v1h-1zM65 234h1v1h-1zM66 235h1v1h-1zM67 235h1v1h-1zM68 236h1v1h-1zM69 236h1v1h-1zM70 237h1v1h-1zM71 238h1v1h-1zM72 239h1v1h-1zM73 240h1v1h-1zM74 241h1v1h-1zM75 242h1v1h-1zM76 243h1v1h-1zM77 243h1v1h-1zM78 244h1v1h-1zM79 244h1v1h-1zM80 245h1v1h-1zM81 245h1v1h-1zM82 245h1v1h-1zM83 244h1v1h-1zM84 244h1v1h-1zM85 244h1v1h-1zM86 242h1v2h-1zM87 241h1v1h-1zM88 240h1v1h-1zM89 238h1v2h-1zM90 237h1v1h-1zM91 237h1v1h-1zM92 237h1v1h-1zM93 238h1v1h-1zM94 238h1v1h-1zM95 238h1v1h-1zM96 239h1v2h-1zM97 241h1v1h-1zM98 242h1v2h-1zM99 244h1v2h-1zM100 246h1v1h-1zM101 246h1v1h-1zM102 246h1v1h-1zM103 247h1v1h-1zM104 247h1v1h-1zM105 247h1v1h-1zM106 245h1v2h-1zM107 244h1v1h-1zM108 243h1v1h-1zM109 241h1v2h-1zM110 240h1v1h-1zM111 239h1v1h-1zM112 238h1v1h-1zM113 238h1v1h-1zM114 237h1v1h-1zM115 235h1v2h-1zM116 233h1v2h-1zM117 231h1v2h-1zM118 228h1v3h-1zM119 226h1v2h-1zM120 224h1v2h-1zM121 223h1v1h-1zM122 222h1v1h-1zM123 220h1v2h-1zM124 219h1v1h-1zM125 218h1v2h-1zM126 220h1v2h-1zM127 222h1v2h-1zM128 224h1v2h-1zM129 226h1v2h-1zM130 228h1v2h-1zM131 225h1v3h-1zM132 222h1v3h-1zM133 218h1v4h-1zM134 215h1v3h-1zM135 213h1v2h-1zM136 214h1v1h-1zM137 214h1v1h-1zM138 215h1v1h-1zM139 215h1v1h-1zM140 216h1v3h-1zM141 219h1v4h-1zM142 223h1v5h-1zM143 228h1v5h-1zM144 233h1v4h-1zM145 237h1v3h-1zM146 240h1v1h-1zM147 241h1v1h-1zM148 242h1v1h-1zM149 243h1v1h-1zM150 244h1v2h-1zM151 246h1v3h-1zM152 249h1v2h-1zM153 251h1v3h-1zM154 254h1v3h-1zM155 252h1v7h-1zM156 238h1v14h-1zM157 225h1v13h-1zM158 211h1v14h-1zM159 197h1v14h-1zM160 185h1v12h-1zM161 173h1v12h-1zM162 162h1v11h-1zM163 150h1v12h-1zM164 138h1v12h-1zM165 132h1v6h-1zM166 138h1v12h-1zM167 150h1v12h-1zM168 162h1v12h-1zM169 174h1v12h-1zM170 186h1v17h-1zM171 203h1v22h-1zM172 225h1v22h-1zM173 247h1v22h-1zM174 269h1v22h-1zM175 291h1v12h-1zM176 302h1v1h-1zM177 303h1v1h-1zM178 303h1v1h-1zM179 304h1v1h-1zM180 304h1v1h-1zM181 304h1v1h-1zM182 305h1v1h-1zM183 305h1v1h-1zM184 306h1v1h-1zM185 306h1v1h-1zM186 304h1v2h-1zM187 303h1v1h-1zM188 302h1v1h-1zM189 300h1v2h-1zM190 298h1v2h-1zM191 295h1v3h-1zM192 292h1v3h-1zM193 289h1v3h-1zM194 286h1v3h-1zM195 284h1v3h-1zM196 287h1v5h-1zM197 292h1v5h-1zM198 297h1v6h-1zM199 303h1v5h-1zM200 307h1v4h-1zM201 299h1v8h-1zM202 291h1v8h-1zM203 283h1v8h-1zM204 275h1v8h-1zM205 270h1v5h-1zM206 275h1v8h-1zM207 283h1v8h-1zM208 291h1v8h-1zM209 299h1v8h-1zM210 307h1v5h-1zM211 312h1v2h-1zM212 314h1v2h-1zM213 316h1v2h-1zM214 318h1v2h-1zM215 320h1v2h-1zM216 322h1v2h-1zM217 324h1v2h-1zM218 326h1v2h-1zM219 328h1v2h-1zM220 330h1v1h-1zM221 330h1v1h-1zM222 331h1v1h-1zM223 331h1v1h-1zM224 332h1v1h-1zM225 332h1v1h-1zM226 333h1v1h-1zM227 334h1v1h-1zM228 335h1v1h-1zM229 336h1v1h-1zM230 337h1v1h-1zM231 337h1v1h-1zM232 338h1v1h-1zM233 338h1v1h-1zM234 339h1v1h-1zM235 339h1v1h-1zM236 339h1v1h-1zM237 339h1v1h-1zM238 339h1v1h-1zM239 339h1v1h-1zM240 339h1v1h-1zM241 337h1v2h-1zM242 335h1v2h-1zM243 333h1v2h-1zM244 331h1v2h-1zM245 329h1v2h-1zM246 330h1v1h-1zM247 331h1v1h-1zM248 331h1v1h-1zM249 332h1v1h-1zM250 333h1v1h-1zM251 333h1v1h-1zM252 333h1v1h-1zM253 334h1v1h-1zM254 334h1v1h-1zM255 333h1v2h-1zM256 331h1v2h-1zM257 329h1v2h-1zM258 327h1v2h-1zM259 325h1v2h-1zM260 322h1v3h-1zM261 320h1v2h-1zM262 318h1v2h-1zM263 316h1v2h-1zM264 314h1v2h-1zM265 311h1v3h-1zM266 309h1v2h-1zM267 306h1v3h-1zM268 303h1v3h-1zM269 301h1v2h-1zM270 299h1v2h-1zM271 298h1v1h-1zM272 297h1v1h-1zM273 296h1v1h-1zM274 295h1v1h-1zM275 294h1v1h-1zM276 292h1v2h-1zM277 290h1v2h-1zM278 288h1v2h-1zM279 286h1v2h-1zM280 285h1v1h-1zM281 285h1v1h-1zM282 284h1v1h-1zM283 284h1v1h-1zM284 283h1v1h-1zM285 283h1v1h-1zM286 281h1v2h-1zM287 279h1v2h-1zM288 277h1v2h-1zM289 275h1v2h-1zM290 273h1v2h-1zM291 274h1v1h-1zM292 274h1v1h-1zM293 275h1v1h-1zM294 275h1v1h-1zM295 276h1v1h-1zM296 275h1v1h-1zM297 274h1v1h-1zM298 274h1v1h-1zM299 273h1v1h-1zM300 272h1v1h-1zM301 271h1v1h-1zM302 270h1v1h-1zM303 269h1v1h-1zM304 268h1v1h-1zM305 267h1v1h-1zM306 265h1v2h-1zM307 263h1v2h-1zM308 261h1v2h-1zM309 259h1v2h-1zM310 257h1v2h-1zM311 255h1v2h-1zM312 253h1v2h-1zM313 251h1v2h-1zM314 249h1v2h-1zM315 247h1v2h-1zM316 247h1v1h-1zM317 246h1v1h-1zM318 246h1v1h-1zM319 245h1v1h-1zM320 244h1v2h-1zM321 240h1v4h-1zM322 236h1v4h-1zM323 232h1v4h-1zM324 228h1v4h-1zM325 226h1v2h-1zM326 227h1v2h-1zM327 229h1v1h-1zM328 230h1v2h-1zM329 232h1v2h-1zM330 232h1v3h-1zM331 228h1v4h-1zM332 224h1v4h-1zM333 219h1v5h-1zM334 215h1v4h-1zM335 212h1v3h-1zM336 212h1v1h-1zM337 212h1v1h-1zM338 211h1v1h-1zM339 211h1v1h-1zM340 211h1v1h-1zM341 212h1v1h-1zM342 212h1v1h-1zM343 213h1v1h-1zM344 213h1v1h-1zM345 213h1v2h-1zM346 209h1v4h-1zM347 206h1v3h-1zM348 202h1v4h-1zM349 198h1v4h-1zM350 196h1v2h-1zM351 198h1v2h-1zM352 200h1v2h-1zM353 202h1v3h-1zM354 205h1v2h-1zM355 207h1v2h-1zM356 205h1v2h-1zM357 203h1v2h-1zM358 200h1v3h-1zM359 198h1v2h-1zM360 196h1v2h-1zM361 194h1v2h-1zM362 193h1v1h-1zM363 192h1v1h-1zM364 190h1v2h-1zM365 189h1v1h-1zM366 187h1v2h-1zM367 185h1v2h-1zM368 183h1v2h-1zM369 181h1v2h-1zM370 179h1v2h-1zM371 179h1v1h-1zM372 178h1v1h-1zM373 178h1v1h-1zM374 177h1v1h-1zM375 177h1v1h-1zM376 176h1v1h-1zM377 175h1v1h-1zM378 175h1v1h-1zM379 174h1v1h-1zM380 172h1v2h-1zM381 169h1v3h-1zM382 167h1v2h-1zM383 164h1v3h-1zM384 161h1v3h-1zM385 159h1v2h-1zM386 158h1v1h-1zM387 157h1v1h-1zM388 155h1v2h-1zM389 154h1v1h-1zM390 153h1v1h-1zM391 152h1v1h-1zM392 152h1v1h-1zM393 151h1v1h-1zM394 151h1v1h-1zM395 150h1v1h-1zM396 148h1v2h-1zM397 146h1v2h-1zM398 144h1v2h-1zM399 142h1v2h-1zM400 140h1v2h-1zM401 137h1v3h-1zM402 134h1v3h-1zM403 131h1v3h-1zM404 128h1v3h-1zM405 125h1v3h-1zM406 122h1v3h-1zM407 119h1v3h-1zM408 116h1v3h-1zM409 113h1v3h-1zM410 111h1v2h-1zM411 110h1v1h-1zM412 109h1v1h-1zM413 109h1v1h-1zM414 108h1v1h-1zM415 107h1v1h-1zM416 106h1v1h-1zM417 106h1v1h-1zM418 105h1v1h-1zM419 105h1v1h-1zM420 104h1v1h-1zM421 104h1v1h-1zM422 103h1v1h-1zM423 103h1v1h-1zM424 102h1v1h-1zM425 102h1v1h-1zM426 103h1v1h-1zM427 103h1v1h-1zM428 104h1v1h-1zM429 104h1v1h-1zM430 105h1v1h-1zM431 105h1v1h-1zM432 105h1v1h-1zM433 106h1v1h-1zM434 106h1v1h-1zM435 106h1v2h-1zM436 108h1v2h-1zM437 110h1v2h-1zM438 112h1v3h-1zM439 115h1v2h-1zM440 117h1v2h-1zM441 119h1v1h-1zM442 119h1v1h-1zM443 120h1v1h-1zM444 120h1v1h-1zM445 120h1v2h-1zM446 116h1v4h-1zM447 112h1v4h-1zM448 108h1v4h-1zM449 104h1v4h-1zM450 101h1v3h-1zM451 97h1v4h-1zM452 93h1v4h-1zM453 89h1v4h-1zM454 85h1v4h-1zM455 82h1v3h-1zM456 80h1v2h-1zM457 79h1v1h-1zM458 77h1v2h-1zM459 75h1v2h-1zM460 73h1v2h-1zM461 71h1v2h-1zM462 69h1v2h-1zM463 66h1v3h-1zM464 64h1v2h-1zM465 62h1v2h-1zM466 61h1v1h-1zM467 61h1v1h-1zM468 60h1v1h-1zM469 60h1v1h-1zM470 59h1v3h-1zM471 62h1v5h-1zM472 67h1v5h-1zM473 72h1v6h-1zM474 78h1v5h-1zM475 83h1v3h-1zM476 86h1v1h-1zM477 86h1v1h-1zM478 87h1v1h-1zM479 87h1v1h-1zM480 88h1v1h-1zM481 88h1v1h-1zM482 88h1v1h-1zM483 88h1v1h-1zM484 88h1v1h-1zM485 88h1v1h-1zM486 86h1v2h-1zM487 84h1v2h-1zM488 82h1v2h-1zM489 80h1v2h-1zM490 78h1v2h-1zM491 77h1v1h-1zM492 76h1v1h-1zM493 74h1v2h-1zM494 73h1v1h-1zM495 72h1v1h-1zM496 73h1v2h-1zM497 75h1v1h-1zM498 76h1v1h-1zM499 77h1v2h-1zM500 79h1v2h-1zM501 81h1v4h-1zM502 85h1v3h-1zM503 88h1v4h-1zM504 92h1v4h-1zM505 96h1v2h-1zM506 95h1v2h-1zM507 94h1v1h-1zM508 92h1v2h-1zM509 90h1v2h-1zM510 89h1v1h-1zM511 90h1v2h-1zM512 92h1v1h-1zM513 93h1v1h-1zM514 94h1v2h-1zM515 96h1v3h-1zM516 99h1v5h-1zM517 104h1v5h-1zM518 109h1v6h-1zM519 115h1v5h-1zM520 120h1v4h-1zM521 124h1v2h-1zM522 126h1v2h-1zM523 128h1v3h-1zM524 131h1v2h-1zM525 133h1v2h-1zM526 134h1v1h-1zM527 134h1v1h-1zM528 133h1v1h-1zM529 133h1v1h-1zM530 133h1v1h-1zM531 134h1v1h-1zM532 134h1v1h-1zM533 135h1v1h-1zM534 135h1v1h-1zM535 136h1v1h-1zM536 134h1v2h-1zM537 133h1v1h-1zM538 131h1v2h-1zM539 129h1v2h-1zM540 128h1v1h-1zM541 126h1v2h-1zM542 125h1v1h-1zM543 124h1v1h-1zM544 122h1v2h-1zM545 121h1v1h-1zM546 122h1v2h-1zM547 124h1v2h-1zM548 126h1v2h-1zM549 128h1v2h-1zM550 130h1v2h-1zM551 130h1v1h-1zM552 129h1v1h-1zM553 128h1v1h-1zM554 127h1v1h-1zM555 126h1v1h-1zM556 127h1v1h-1zM557 127h1v1h-1zM558 128h1v1h-1zM559 128h1v1h-1zM560 129h1v1h-1zM561 129h1v1h-1zM562 129h1v1h-1zM563 128h1v1h-1zM564 128h1v1h-1zM565 128h1v1h-1zM566 127h1v1h-1zM567 126h1v1h-1zM568 126h1v1h-1zM569 125h1v1h-1zM570 124h1v1h-1zM571 124h1v1h-1zM572 125h1v1h-1zM573 125h1v1h-1zM574 126h1v1h-1zM575 126h1v1h-1zM576 127h1v1h-1zM577 128h1v1h-1zM578 128h1v1h-1zM579 129h1v1h-1zM580 130h1v1h-1zM581 130h1v1h-1zM582 130h1v1h-1zM583 129h1v1h-1zM584 129h1v1h-1zM585 129h1v1h-1zM586 130h1v1h-1zM587 130h1v1h-1zM588 131h1v1h-1zM589 131h1v1h-1zM590 132h1v1h-1zM591 133h1v1h-1zM592 134h1v1h-1zM593 135h1v2h-1zM594 137h1v1h-1zM595 138h1v3h-1zM596 141h1v6h-1zM597 147h1v5h-1zM598 152h1v6h-1zM599 158h1v6h-1zM600 164h1v3h-1zM601 164h1v2h-1zM602 162h1v2h-1zM603 160h1v2h-1zM604 158h1v2h-1zM605 156h1v2h-1zM606 158h1v2h-1zM607 160h1v2h-1zM608 162h1v2h-1zM609 164h1v2h-1zM610 166h1v2h-1zM611 166h1v1h-1zM612 166h1v1h-1zM613 165h1v1h-1zM614 165h1v1h-1zM615 164h1v1h-1zM616 164h1v1h-1zM617 164h1v1h-1zM618 163h1v1h-1zM619 163h1v1h-1zM620 163h1v1h-1zM621 162h1v1h-1zM622 162h1v1h-1zM623 161h1v1h-1zM624 161h1v1h-1zM625 160h1v1h-1zM626 160h1v1h-1zM627 160h1v1h-1zM628 160h1v1h-1zM629 160h1v1h-1zM630 160h1v1h-1zM631 161h1v1h-1zM632 161h1v1h-1zM633 162h1v1h-1zM634 162h1v1h-1zM635 162h1v2h-1zM636 160h1v2h-1zM637 158h1v2h-1zM638 156h1v2h-1zM639 154h1v2h-1zM640 152h1v2h-1zM641 153h1v1h-1zM642 154h1v1h-1zM643 155h1v2h-1zM644 157h1v1h-1zM645 158h1v2h-1zM646 160h1v3h-1zM647 163h1v3h-1zM648 166h1v4h-1zM649 170h1v3h-1zM650 173h1v2h-1zM651 174h1v1h-1zM652 175h1v1h-1zM653 175h1v1h-1zM654 176h1v1h-1zM655 176h1v1h-1zM656 177h1v2h-1zM657 179h1v1h-1zM658 180h1v2h-1zM659 182h1v2h-1zM660 184h1v1h-1zM661 182h1v2h-1zM662 181h1v1h-1zM663 179h1v2h-1zM664 177h1v2h-1zM665 176h1v1h-1zM666 175h1v1h-1zM667 175h1v1h-1zM668 174h1v1h-1zM669 174h1v1h-1zM670 173h1v1h-1zM671 171h1v2h-1zM672 170h1v1h-1zM673 169h1v1h-1zM674 167h1v2h-1zM675 166h1v1h-1zM676 167h1v1h-1zM677 168h1v1h-1zM678 168h1v1h-1zM679 169h1v1h-1zM680 170h1v1h-1zM681 171h1v1h-1zM682 171h1v1h-1zM683 172h1v1h-1zM684 172h1v1h-1zM685 173h1v1h-1zM686 173h1v1h-1zM687 174h1v1h-1zM688 174h1v1h-1zM689 175h1v1h-1zM690 175h1v1h-1zM691 176h1v1h-1zM692 177h1v1h-1zM693 177h1v1h-1zM694 178h1v1h-1zM695 179h1v1h-1zM696 179h1v1h-1zM697 180h1v1h-1zM698 180h1v1h-1zM699 181h1v1h-1zM700 181h1v1h-1zM701 180h1v1h-1zM702 180h1v1h-1zM703 179h1v1h-1zM704 179h1v1h-1zM705 178h1v1h-1zM706 178h1v1h-1zM707 179h1v1h-1zM708 179h1v1h-1zM709 180h1v1h-1zM710 180h1v1h-1zM711 181h1v1h-1zM712 182h1v1h-1zM713 182h1v1h-1zM714 183h1v1h-1zM715 184h1v1h-1zM716 183h1v1h-1zM717 183h1v1h-1zM718 182h1v1h-1zM719 182h1v1h-1zM720 181h1v1h-1zM721 182h1v1h-1zM722 183h1v1h-1zM723 184h1v1h-1zM724 185h1v1h-1zM725 186h1v1h-1zM726 187h1v2h-1zM727 189h1v1h-1zM728 190h1v2h-1zM729 192h1v2h-1zM730 194h1v1h-1zM731 195h1v1h-1zM732 195h1v1h-1zM733 196h1v1h-1zM734 196h1v1h-1zM735 197h1v1h-1zM736 198h1v1h-1zM737 198h1v1h-1zM738 199h1v1h-1zM739 199h1v1h-1zM740 199h1v2h-1zM741 195h1v4h-1zM742 191h1v4h-1zM743 187h1v4h-1zM744 183h1v4h-1zM745 175h1v8h-1zM746 163h1v12h-1zM747 151h1v12h-1zM748 139h1v12h-1zM749 127h1v12h-1zM750 120h1v7h-1zM751 126h1v11h-1zM752 137h1v11h-1zM753 148h1v12h-1zM754 160h1v11h-1zM755 171h1v6h-1z"/>
<line x1="40" y1="63.5" x2="760" y2="63.5" stroke="#000" stroke-width="1" stroke-dasharray="3,3"/>
<line x1="40" y1="101.5" x2="760" y2="101.5" stroke="#000" stroke-width="1" stroke-dasharray="3,3"/>
<line x1="40" y1="140.5" x2="760" y2="140.5" stroke="#000" stroke-width="1" stroke-dasharray="3,3"/>
<line x1="40" y1="179.5" x2="760" y2="179.5" stroke="#000" stroke-width="1" stroke-dasharray="3,3"/>
<line x1="40" y1="217.5" x2="760" y2="217.5" stroke="#000" stroke-width="1" stroke-dasharray="3,3"/>
<line x1="40" y1="256.5" x2="760" y2="256.5" stroke="#000" stroke-width="1" stroke-dasharray="3,3"/>
<line x1="40" y1="294.5" x2="760" y2="294.5" stroke="#000" stroke-width="1" stroke-dasharray="3,3"/>
<line x1="40" y1="333.5" x2="760" y2="333.5" stroke="#000" stroke-width="1" stroke-dasharray="3,3"/>
<line x1="40" y1="372.5" x2="760" y2="372.5" stroke="#000" stroke-width="1" stroke-dasharray="3,3"/>
<line x1="40" y1="410.5" x2="760" y2="410.5" stroke="#000" stroke-width="1" stroke-dasharray="3,3"/>
<line x1="40" y1="449.5" x2="760" y2="449.5" stroke="#000" stroke-width="1" stroke-dasharray="3,3"/>
<line x1="130.5" y1="40" x2="130.5" y2="460" stroke="#000" stroke-width="1" stroke-dasharray="3,3"/>
<line x1="220.5" y1="40" x2="220.5" y2="460" stroke="#000" stroke-width="1" stroke-dasharray="3,3"/>
<line x1="310.5" y1="40" x2="310.5" y2="460" stroke="#000" stroke-width="1" stroke-dasharray="3,3"/>
<line x1="400.5" y1="40" x2="400.5" y2="460" stroke="#000" stroke-width="1" stroke-dasharray="3,3"/>
<line x1="490.5" y1="40" x2="490.5" y2="460" stroke="#000" stroke-width="1" stroke-dasharray="3,3"/>
<line x1="580.5" y1="40" x2="580.5" y2="460" stroke="#000" stroke-width="1" stroke-dasharray="3,3"/>
<line x1="670.5" y1="40" x2="670.5" y2="460" stroke="#000" stroke-width="1" stroke-dasharray="3,3"/>
<rect x="40.5" y="40.5" width="720" height="420" fill="none" stroke="#000" stroke-width="1"/>
<line x1="40.5" y1="460" x2="40.5" y2="463" stroke="#000" stroke-width="1"/>
<line x1="70.5" y1="460" x2="70.5" y2="463" stroke="#000" stroke-width="1"/>
<line x1="100.5" y1="460" x2="100.5" y2="463" stroke="#000" stroke-width="1"/>
<line x1="130.5" y1="460" x2="130.5" y2="463" stroke="#000" stroke-width="1"/>
<line x1="160.5" y1="460" x2="160.5" y2="463" stroke="#000" stroke-width="1"/>
<line x1="190.5" y1="460" x2="190.5" y2="463" stroke="#000" stroke-width="1"/>
<line x1="220.5" y1="460" x2="220.5" y2="463" stroke="#000" stroke-width="1"/>
<line x1="250.5" y1="460" x2="250.5" y2="463" stroke="#000" stroke-width="1"/>
<line x1="280.5" y1="460" x2="280.5" y2="463" stroke="#000" stroke-width="1"/>
<line x1="310.5" y1="460" x2="310.5" y2="463" stroke="#000" stroke-width="1"/>
<line x1="340.5" y1="460" x2="340.5" y2="463" stroke="#000" stroke-width="1"/>
<line x1="370.5" y1="460" x2="370.5" y2="463" stroke="#000" stroke-width="1"/>
<line x1="400.5" y1="460" x2="400.5" y2="463" stroke="#000" stroke-width="1"/>
<line x1="430.5" y1="460" x2="430.5" y2="463" stroke="#000" stroke-width="1"/>
<line x1="460.5" y1="460" x2="460.5" y2="463" stroke="#000" stroke-width="1"/>
<line x1="490.5" y1="460" x2="490.5" y2="463" stroke="#000" stroke-width="1"/>
<line x1="520.5" y1="460" x2="520.5" y2="463" stroke="#000" stroke-width="1"/>
<line x1="550.5" y1="460" x2="550.5" y2="463" stroke="#000" stroke-width="1"/>
<line x1="580.5" y1="460" x2="580.5" y2="463" stroke="#000" stroke-width="1"/>
<line x1="610.5" y1="460" x2="610.5" y2="463" stroke="#000" stroke-width="1"/>
<line x1="640.5" y1="460" x2="640.5" y2="463" stroke="#000" stroke-width="1"/>
<line x1="670.5" y1="460" x2="670.5" y2="463" stroke="#000" stroke-width="1"/>
<line x1="700.5" y1="460" x2="700.5" y2="463" stroke="#000" stroke-width="1"/>
<line x1="730.5" y1="460" x2="730.5" y2="463" stroke="#000" stroke-width="1"/>
<line x1="760.5" y1="460" x2="760.5" y2="463" stroke="#000" stroke-width="1"/>
</svg>
<div id="title">Temperatur, Taupunkt, Windchill [°C]</div>
<div class="yl" style="top:58px">21,0</div>
<div class="yl" style="top:96px">20,0</div>
<div class="yl" style="top:135px">19,0</div>
<div class="yl" style="top:174px">18,0</div>
<div class="yl" style="top:212px">17,0</div>
<div class="yl" style="top:251px">16,0</div>
<div class="yl" style="top:289px">15,0</div>
<div class="yl" style="top:328px">14,0</div>
<div class="yl" style="top:367px">13,0</div>
<div class="yl" style="top:405px">12,0</div>
<div class="yl" style="top:444px">11,0</div>
<div class="yl" style="top:39px">°C</div>
<div class="xl" style="left:0px;top:468px">00:00</div>
<div class="xl" style="left:0px;top:483px">27.07.23</div>
<div class="xl" style="left:90px;top:468px">03:00</div>
<div class="xl" style="left:90px;top:483px">27.07.23</div>
<div class="xl" style="left:180px;top:468px">06:00</div>
<div class="xl" style="left:180px;top:483px">27.07.23</div>
<div class="xl" style="left:270px;top:468px">09:00</div>
<div class="xl" style="left:270px;top:483px">27.07.23</div>
<div class="xl" style="left:360px;top:468px">12:00</div>
<div class="xl" style="left:360px;top:483px">27.07.23</div>
<div class="xl" style="left:450px;top:468px">15:00</div>
<div class="xl" style="left:450px;top:483px">27.07.23</div>
<div class="xl" style="left:540px;top:468px">18:00</div>
<div class="xl" style="left:540px;top:483px">27.07.23</div>
<div class="xl" style="left:630px;top:468px">21:00</div>
<div class="xl" style="left:630px;top:483px">27.07.23</div>
<div class="xl" style="left:720px;top:468px">00:00</div>
<div class="xl" style="left:720px;top:483px">28.07.23</div>
</body></html>
